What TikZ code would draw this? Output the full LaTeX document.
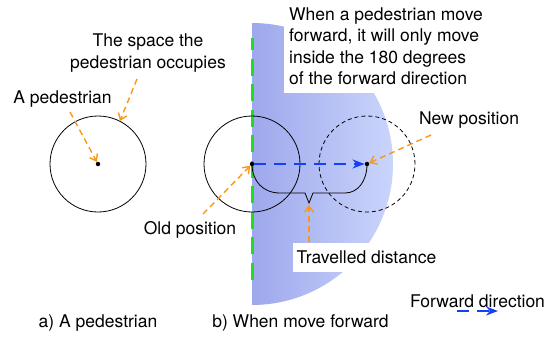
\documentclass[tikz,border=0pt]{standalone}
\usepackage{fontspec}
\setmainfont{TeX Gyre Heros}
\usepackage{xcolor}
\usepackage{tikz}
\usetikzlibrary{arrows.meta}

\definecolor{hintorange}{RGB}{250,152,20}
\definecolor{fwdblue}{RGB}{20,65,245}
\definecolor{edgegreen}{RGB}{30,222,30}
\definecolor{zoneleft}{RGB}{158,168,236}
\definecolor{zoneright}{RGB}{202,213,252}

\begin{document}
\begin{tikzpicture}[x=1pt, y=-1pt, >={Stealth[length=12pt,width=9pt]},
        lbl/.style={font=\fontsize{17.5}{21.3}\selectfont},
        body/.style={circle, draw, line width=0.8pt, minimum size=96pt, inner sep=0pt},
        dot/.style={circle, fill, inner sep=0pt, minimum size=4.5pt},
        fwd/.style={->, draw=fwdblue, line width=2.8pt, dash pattern=on 12pt off 8pt},
        hint/.style={-{Straight Barb[length=6pt,width=9pt]}, draw=hintorange, line width=1.4pt, dash pattern=on 6pt off 4pt}]
            \useasboundingbox (0,0) rectangle (547,338);
            
            \begin{scope}
                \clip (252,164) circle (141);
                \shade[left color=zoneleft, right color=zoneright] (252,20) rectangle (393,308);
            \end{scope}
            \draw[draw=edgegreen, line width=3pt, dash pattern=on 17pt off 8.5pt, dash phase=5pt] (252,38) -- (252,285);
            
            \node[body] (ped) at (98,164) {};
            \node[body] (oldpos) at (252,164) {};
            \node[body, dash pattern=on 4pt off 3pt] (newpos) at (367,164) {};
            \node[dot] (peddot) at (98,164) {};
            \node[dot] (olddot) at (252,164) {};
            \node[dot] (newdot) at (367,164) {};
            
            \draw[line width=0.8pt] (252,164) .. controls (252,181) and (263,193) .. (280,193) -- (305,193) -- (309,203)
                -- (313,193) -- (345,193) .. controls (358,193) and (367,181) .. (367,164);
            \coordinate (vtip) at (309,203);
            \draw[fwd] (olddot) -- (newdot);
            
            \node[lbl, fill=white, anchor=south west, align=left, inner xsep=5pt, inner ysep=8pt] (rule) at (284,93)
                {When a pedestrian move\\forward, it will only move\\inside the 180 degrees\\of the forward direction};
            \node[lbl, align=center] (space) at (148,53) {The space the\\pedestrian occupies};
            \node[lbl] (pedlbl) at (62.5,99) {A pedestrian};
            \node[lbl] (oldlbl) at (190,230) {Old position};
            \node[lbl] (newlbl) at (469,120) {New position};
            \node[lbl, fill=white, inner xsep=4pt, inner ysep=8pt] (travel) at (366.5,257.5) {Travelled distance};
            \node[lbl] (fwdlbl) at (477.5,301) {Forward direction};
            \node[lbl] (capa) at (98,323) {a) A pedestrian};
            \node[lbl] (capb) at (300.5,323) {b) When move forward};
            
            \coordinate (h1) at (70,112);
            \coordinate (h2) at (137,79);
            \coordinate (h3) at (203,214);
            \coordinate (h4) at (431,135);
            \coordinate (h5) at (309,242);
            \draw[hint] (h1) -- (peddot);
            \draw[hint] (h2) -- (ped.63);
            \draw[hint] (h3) -- (olddot);
            \draw[hint] (h4) -- (newdot);
            \draw[hint, shorten >=2pt] (h5) -- (vtip);
            
            \coordinate (f1) at (457,311);
            \coordinate (f2) at (498,311);
            \draw[fwd] (f1) -- (f2);
        \end{tikzpicture}
\end{document}
